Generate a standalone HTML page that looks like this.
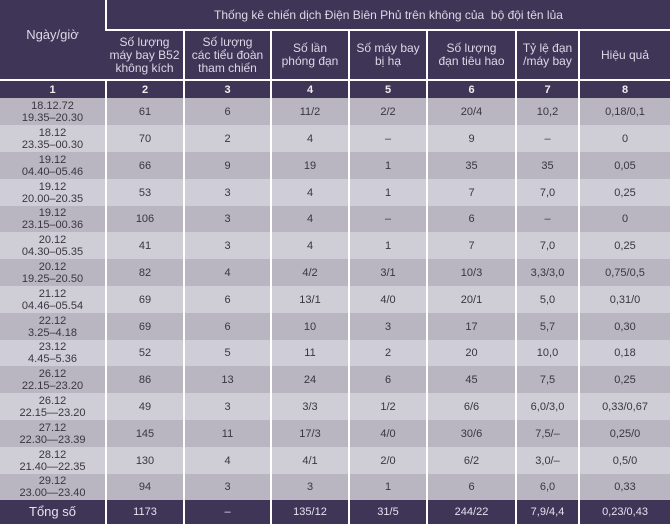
<!DOCTYPE html>
<html><head><meta charset="utf-8"><style>
body{margin:0;width:670px;height:526px;overflow:hidden;background:#fff}
table{border-collapse:collapse;table-layout:fixed;width:670px;font-family:"Liberation Sans",sans-serif;font-size:11px;color:#3a3640}
td{padding:0;text-align:center;vertical-align:middle;border-left:2px solid #fff;line-height:12px}
td:first-child{border-left:none}
.h td{background:#3f3557;color:#ddd8e6;font-size:12px}
.t td{height:29px;border-bottom:2px solid #fff}
.s td{height:48px;border-bottom:2px solid #fff;line-height:13px}
.n td{background:#3f3557;color:#eee;font-weight:bold;height:17px;font-size:11px}
.d td{height:27px}
.d.x td{height:26px}
.a td{background:#b9b6c1}
.b td{background:#cfcdd6}
.tot td{background:#3f3557;color:#e6e2ee;height:24px}
.tot td:first-child{font-size:13px}
</style></head><body>
<table>
<colgroup><col style="width:106px"><col style="width:78px"><col style="width:87px"><col style="width:78px"><col style="width:78px"><col style="width:89px"><col style="width:63px"><col style="width:91px"></colgroup>
<tr class="h t"><td rowspan="2" style="font-size:13px;vertical-align:middle;border-bottom:2px solid #fff;padding-bottom:10px">Ngày/giờ</td><td colspan="7">Thống kê chiến dịch Điện Biên Phủ trên không của &nbsp;bộ đội tên lủa</td></tr>
<tr class="h s"><td>Số lượng<br>máy bay B52<br>không kích</td><td>Số lượng<br>các tiểu đoàn<br>tham chiến</td><td>Số lần<br>phóng đạn</td><td>Số máy bay<br>bị hạ</td><td>Số lượng<br>đạn tiêu hao</td><td>Tỷ lệ đạn<br>/máy bay</td><td>Hiệu quả</td></tr>
<tr class="n"><td>1</td><td>2</td><td>3</td><td>4</td><td>5</td><td>6</td><td>7</td><td>8</td></tr>
<tr class="d a"><td>18.12.72<br>19.35–20.30</td><td>61</td><td>6</td><td>11/2</td><td>2/2</td><td>20/4</td><td>10,2</td><td>0,18/0,1</td></tr>
<tr class="d b"><td>18.12<br>23.35–00.30</td><td>70</td><td>2</td><td>4</td><td>–</td><td>9</td><td>–</td><td>0</td></tr>
<tr class="d a"><td>19.12<br>04.40–05.46</td><td>66</td><td>9</td><td>19</td><td>1</td><td>35</td><td>35</td><td>0,05</td></tr>
<tr class="d b"><td>19.12<br>20.00–20.35</td><td>53</td><td>3</td><td>4</td><td>1</td><td>7</td><td>7,0</td><td>0,25</td></tr>
<tr class="d x a"><td>19.12<br>23.15–00.36</td><td>106</td><td>3</td><td>4</td><td>–</td><td>6</td><td>–</td><td>0</td></tr>
<tr class="d b"><td>20.12<br>04.30–05.35</td><td>41</td><td>3</td><td>4</td><td>1</td><td>7</td><td>7,0</td><td>0,25</td></tr>
<tr class="d a"><td>20.12<br>19.25–20.50</td><td>82</td><td>4</td><td>4/2</td><td>3/1</td><td>10/3</td><td>3,3/3,0</td><td>0,75/0,5</td></tr>
<tr class="d b"><td>21.12<br>04.46–05.54</td><td>69</td><td>6</td><td>13/1</td><td>4/0</td><td>20/1</td><td>5,0</td><td>0,31/0</td></tr>
<tr class="d a"><td>22.12<br>3.25–4.18</td><td>69</td><td>6</td><td>10</td><td>3</td><td>17</td><td>5,7</td><td>0,30</td></tr>
<tr class="d x b"><td>23.12<br>4.45–5.36</td><td>52</td><td>5</td><td>11</td><td>2</td><td>20</td><td>10,0</td><td>0,18</td></tr>
<tr class="d a"><td>26.12<br>22.15–23.20</td><td>86</td><td>13</td><td>24</td><td>6</td><td>45</td><td>7,5</td><td>0,25</td></tr>
<tr class="d b"><td>26.12<br>22.15—23.20</td><td>49</td><td>3</td><td>3/3</td><td>1/2</td><td>6/6</td><td>6,0/3,0</td><td>0,33/0,67</td></tr>
<tr class="d a"><td>27.12<br>22.30—23.39</td><td>145</td><td>11</td><td>17/3</td><td>4/0</td><td>30/6</td><td>7,5/–</td><td>0,25/0</td></tr>
<tr class="d b"><td>28.12<br>21.40—22.35</td><td>130</td><td>4</td><td>4/1</td><td>2/0</td><td>6/2</td><td>3,0/–</td><td>0,5/0</td></tr>
<tr class="d x a"><td>29.12<br>23.00—23.40</td><td>94</td><td>3</td><td>3</td><td>1</td><td>6</td><td>6,0</td><td>0,33</td></tr>
<tr class="tot"><td>Tổng số</td><td>1173</td><td>–</td><td>135/12</td><td>31/5</td><td>244/22</td><td>7,9/4,4</td><td>0,23/0,43</td></tr>
</table>
</body></html>
